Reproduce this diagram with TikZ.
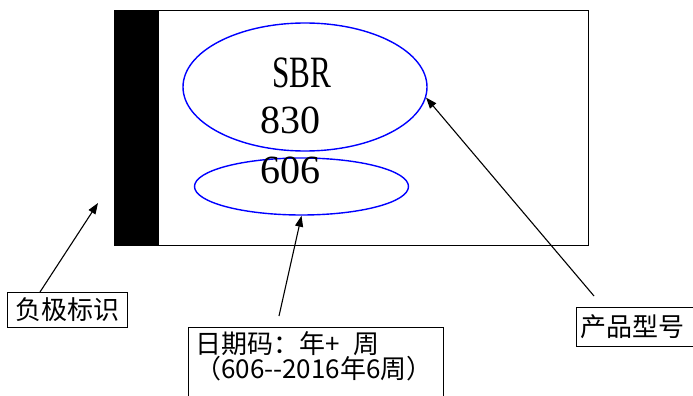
\documentclass[tikz,border=0pt]{standalone}
\usepackage{fontspec}
\usepackage{graphicx}
\setmainfont{Liberation Serif}
\newfontfamily\cjk{Noto Sans CJK SC}
\usetikzlibrary{arrows.meta,shapes.geometric}
\tikzset{
  lbl/.style={draw, line width=1pt, anchor=north west, inner sep=0pt, font=\cjk\fontsize{26}{26}\selectfont},
  ptr/.style={-{Triangle[length=11pt,width=8pt]}, line width=1.1pt},
  ring/.style={draw=blue, line width=1.4pt, ellipse, inner sep=0pt},
  big/.style={font=\fontsize{40}{40}\selectfont, inner sep=0pt, anchor=west}
}
\begin{document}
\begin{tikzpicture}[x=1pt,y=-1pt]
\clip (0,0) rectangle (693,396);
\fill[white] (0,0) rectangle (693,396);
% battery body
\node[draw, line width=1.2pt, minimum width=474pt, minimum height=235pt, anchor=north west, inner sep=0pt] (frame) at (114,10) {};
\node[fill=black, minimum width=45pt, minimum height=235pt, anchor=north west, inner sep=0pt] (bar) at (114,10) {};
% ellipses
\node[ring, minimum width=244pt, minimum height=128pt] (bigring) at (305,87) {};
\node[ring, minimum width=214pt, minimum height=57pt] (smallring) at (301.5,186.5) {};
% printed text
\node[big] (sbr) at (272,73) {\scalebox{0.78}[1.12]{SBR}};
\node[big] (n830) at (260,120) {830};
\node[big] (n606) at (260,170) {606};
% labels
\node[lbl, minimum width=120pt, minimum height=35pt] (neg) at (7,292) {负极标识};
\node[draw, line width=1pt, minimum width=255pt, minimum height=90pt, anchor=north west, inner sep=0pt] (datebox) at (188,327) {};
\node[anchor=north west, inner sep=0pt, align=left, font=\cjk\fontsize{26}{24}\selectfont] (datetext) at (195,331) {日期码：年+ \kern0.3em周\\（606{-}{-}2016年6周）};
\node[lbl, minimum width=130pt, minimum height=39pt, text width=124pt, align=left, inner xsep=4pt] (prod) at (576,307) {产品型号};
% connectors
\coordinate (negtip) at (98,203);
\coordinate (datefoot) at (279,316);
\coordinate (prodfoot) at (594,296);
\draw[ptr] ([xshift=33pt]neg.north west) -- (negtip);
\draw[ptr] (datefoot) -- (smallring.south);
\draw[ptr] (prodfoot) -- (bigring.-5);
\end{tikzpicture}
\end{document}
